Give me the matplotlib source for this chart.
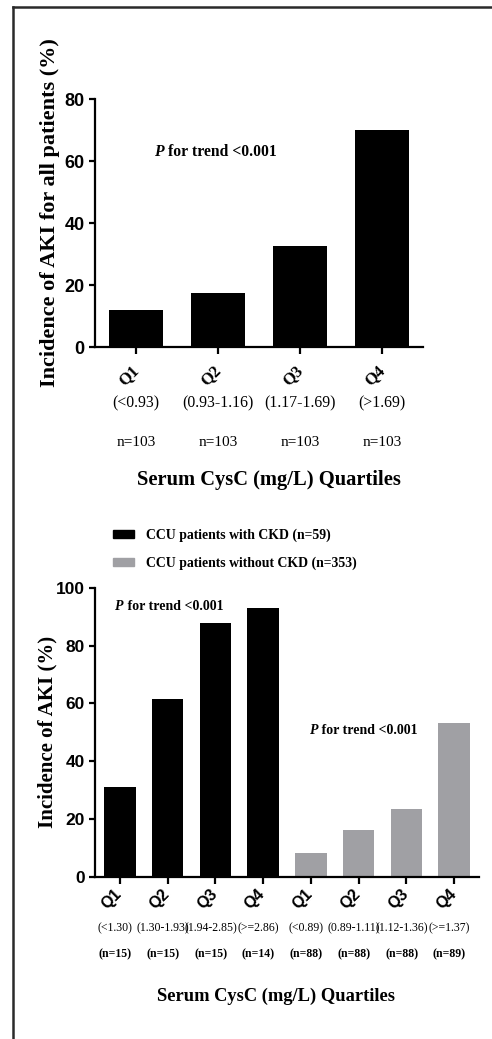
import numpy as np
import matplotlib
matplotlib.use('Agg')
import matplotlib.pyplot as plt
from matplotlib.patches import Patch
from matplotlib import transforms
from matplotlib.lines import Line2D

# top chart: all patients
all_quartiles = ['Q1', 'Q2', 'Q3', 'Q4']
all_ranges = ['(<0.93)', '(0.93-1.16)', '(1.17-1.69)', '(>1.69)']
all_n = ['n=103', 'n=103', 'n=103', 'n=103']
all_incidence = [11.9, 17.4, 32.7, 70.0]

# bottom chart: with / without CKD
ckd_ranges = ['(<1.30)', '(1.30-1.93)', '(1.94-2.85)', '(>=2.86)']
ckd_n = ['(n=15)', '(n=15)', '(n=15)', '(n=14)']
ckd_incidence = [31.1, 61.5, 87.7, 92.9]
nockd_ranges = ['(<0.89)', '(0.89-1.11)', '(1.12-1.36)', '(>=1.37)']
nockd_n = ['(n=88)', '(n=88)', '(n=88)', '(n=89)']
nockd_incidence = [8.1, 16.0, 23.3, 53.3]
legend_labels = ['CCU patients with CKD (n=59)', 'CCU patients without CKD (n=353)']

SERIF = 'Liberation Serif'
SANS = 'Liberation Sans'
GRAY = '#a0a0a4'

W, H = 492, 1039
fig = plt.figure(figsize=(W / 100, H / 100), dpi=100)


def fx(px):
    return px / W


def fy(px):
    return 1 - px / H


def style_axis(ax, ysize):
    for s in ['top', 'right']:
        ax.spines[s].set_visible(False)
    for s in ['left', 'bottom']:
        ax.spines[s].set_linewidth(1.6)
    ax.tick_params(axis='y', length=4, width=1.6, labelsize=ysize)
    for lab in ax.get_yticklabels():
        lab.set_fontfamily(SANS)
        lab.set_fontweight('bold')


def p_trend(ax, px, py, size):
    p = ax.text(fx(px), fy(py), 'P', transform=fig.transFigure, ha='left',
                va='center', fontfamily=SERIF, fontweight='bold',
                fontstyle='italic', fontsize=size)
    ax.annotate(' for trend <0.001', xy=(1, 0.5), xycoords=p, ha='left',
                va='center', fontfamily=SERIF, fontweight='bold', fontsize=size)


# border of the panel
fig.add_artist(Line2D([fx(13), 1], [fy(7), fy(7)], color='#2a2a2a', lw=1.8))
fig.add_artist(Line2D([fx(13), fx(13)], [fy(7), 0], color='#2a2a2a', lw=1.8))

# ---- top chart
ax1 = fig.add_axes([fx(95), fy(347), fx(423) - fx(95), (347 - 99) / H])
x1 = np.arange(len(all_quartiles))
ax1.bar(x1, all_incidence, width=0.67, color='black')
ax1.set_xlim(-0.5, 3.5)
ax1.set_ylim(0, 80)
ax1.set_yticks([0, 20, 40, 60, 80])
style_axis(ax1, 13)
ax1.set_xticks(x1)
ax1.set_xticklabels(all_quartiles, rotation=45, fontfamily=SERIF,
                    fontweight='bold', fontsize=12)
ax1.tick_params(axis='x', length=5, width=1.6, pad=6)
shift = transforms.ScaledTranslation(-7 / 100, 0, fig.dpi_scale_trans)
for lab in ax1.get_xticklabels():
    lab.set_transform(lab.get_transform() + shift)
fig.text(fx(50), fy(213), 'Incidence of AKI for all patients (%)', rotation=90,
         ha='center', va='center', fontfamily=SERIF, fontweight='bold', fontsize=16)

tr1 = transforms.blended_transform_factory(ax1.transData, fig.transFigure)
for i in x1:
    ax1.text(i, fy(403), all_ranges[i], transform=tr1, ha='center', va='center',
             fontfamily=SERIF, fontsize=11.3)
    ax1.text(i, fy(443), all_n[i], transform=tr1, ha='center', va='center',
             fontfamily=SERIF, fontsize=11)
fig.text(fx(269), fy(480), 'Serum CysC (mg/L) Quartiles', ha='center', va='center',
         fontfamily=SERIF, fontweight='bold', fontsize=14.8)
p_trend(ax1, 154, 152, 11.3)

# ---- bottom chart
ax2 = fig.add_axes([fx(95), fy(876.7), fx(479) - fx(95), (876.7 - 587.7) / H])
x_ckd = np.arange(4)
x_no = np.arange(4, 8)
ax2.bar(x_ckd, ckd_incidence, width=0.66, color='black')
ax2.bar(x_no, nockd_incidence, width=0.66, color=GRAY)
ax2.set_xlim(-0.52, 7.52)
ax2.set_ylim(0, 100)
ax2.set_yticks([0, 20, 40, 60, 80, 100])
style_axis(ax2, 12.5)
ax2.set_xticks(np.arange(8))
ax2.set_xticklabels(all_quartiles + all_quartiles, rotation=45, fontfamily=SANS,
                    fontweight='bold', fontsize=11.5)
ax2.tick_params(axis='x', length=5, width=1.6, pad=2)
shift2 = transforms.ScaledTranslation(-8 / 100, 0, fig.dpi_scale_trans)
for lab in ax2.get_xticklabels():
    lab.set_transform(lab.get_transform() + shift2)
fig.text(fx(47), fy(732), 'Incidence of AKI (%)', rotation=90, ha='center',
         va='center', fontfamily=SERIF, fontweight='bold', fontsize=15)

tr2 = transforms.blended_transform_factory(ax2.transData, fig.transFigure)
for i, (r, n) in enumerate(zip(ckd_ranges + nockd_ranges, ckd_n + nockd_n)):
    ax2.text(i - 0.1, fy(928), r, transform=tr2, ha='center', va='center',
             fontfamily=SERIF, fontsize=8.5)
    ax2.text(i - 0.1, fy(954), n, transform=tr2, ha='center', va='center',
             fontfamily=SERIF, fontweight='bold', fontsize=8.5)
fig.text(fx(276), fy(996), 'Serum CysC (mg/L) Quartiles', ha='center', va='center',
         fontfamily=SERIF, fontweight='bold', fontsize=13.3)
p_trend(ax2, 115, 606, 10)
p_trend(ax2, 310, 730, 10)

handles = [Patch(color='black'), Patch(color=GRAY)]
leg = fig.legend(handles, legend_labels, loc='upper left',
                 bbox_to_anchor=(fx(101), fy(516)), frameon=False,
                 prop={'family': SERIF, 'weight': 'bold', 'size': 9.9},
                 handlelength=1.5, handleheight=0.5, handletextpad=0.85,
                 labelspacing=1.05)

fig.savefig('out.png', dpi=100)
